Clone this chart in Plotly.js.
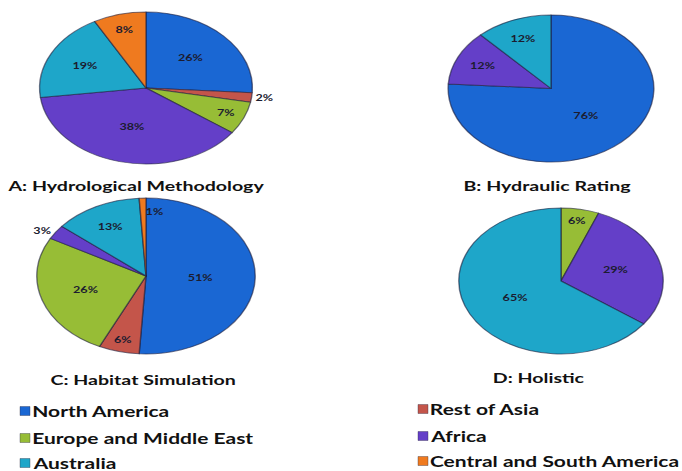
<!DOCTYPE html>
<html>
<head>
<meta charset="utf-8">
<script src="https://cdn.plot.ly/plotly-3.0.1.min.js"></script>
<style>
  html, body { margin: 0; padding: 0; background: #ffffff; overflow: hidden; }
  /* the figure is laid out narrow and widened, so the pies come out as ellipses */
  #chart { width: 487px; height: 471px; transform: scaleX(1.4); transform-origin: 0 0; }
</style>
</head>
<body>
<div id="chart"></div>
<script>
// Share of environmental-flow methods applied in each region (%)
const regions = ['North America', 'Rest of Asia', 'Europe and Middle East', 'Africa', 'Australia', 'Central and South America'];
const hydrological = [26, 2, 7, 38, 19, 8];
const hydraulic = [76, 0, 0, 12, 12, 0];
const habitat = [51, 6, 26, 3, 13, 1];
const holistic = [0, 0, 6, 29, 65, 0];
const panelTitles = ['A: Hydrological Methodology', 'B: Hydraulic Rating', 'C: Habitat Simulation', 'D: Holistic'];

const regionColors = ['#1a67d3', '#c4554a', '#97bd36', '#643fc8', '#1ea6c9', '#ef7a1f'];

const W = 487, H = 471, SX = 1.4;
const FONT = 'Lato, "Open Sans", sans-serif';
const LABEL_FONT = { family: FONT, size: 9, color: '#1c1c30', weight: 'bold' };

// pie domain from a centre and diameter given in page pixels
function domainFor(cx, cy, d) {
  const x = cx / SX;
  return {
    x: [(x - d / 2) / W, (x + d / 2) / W],
    y: [1 - (cy + d / 2) / H, 1 - (cy - d / 2) / H]
  };
}

// label placement per slice: 'inside', 'outside', or 'note' (written beside the pie)
const panels = [
  { values: hydrological, dom: domainFor(146, 88, 152), place: { 'Rest of Asia': 'outside' } },
  { values: hydraulic, dom: domainFor(551, 88.5, 147), place: {} },
  { values: habitat, dom: domainFor(146, 276, 156), place: { 'Africa': 'outside', 'Central and South America': 'note' } },
  { values: holistic, dom: domainFor(561, 281, 146), place: {} }
];

const traces = panels.map(function (p) {
  const labels = [], vals = [], cols = [], pos = [];
  regions.forEach(function (r, i) {
    if (p.values[i] > 0) {
      const where = p.place[r] || 'inside';
      labels.push(r);
      vals.push(p.values[i]);
      cols.push(regionColors[i]);
      pos.push(where === 'note' ? 'none' : where);
    }
  });
  return {
    type: 'pie',
    labels: labels,
    values: vals,
    sort: false,
    direction: 'clockwise',
    rotation: 0,
    domain: p.dom,
    marker: { colors: cols, line: { color: 'rgba(30,30,60,0.6)', width: 1 } },
    texttemplate: '%{value}%',
    textposition: pos,
    insidetextorientation: 'horizontal',
    textfont: LABEL_FONT,
    outsidetextfont: LABEL_FONT,
    hoverinfo: 'label+percent',
    showlegend: false
  };
});

const annotations = [];

// the thin Central and South America slice of panel C is labelled just beside it
annotations.push({
  xref: 'paper', yref: 'paper',
  x: 155 / SX / W, y: 1 - 211 / H,
  xanchor: 'center', yanchor: 'middle',
  text: habitat[5] + '%', showarrow: false,
  font: LABEL_FONT
});

const titlePos = [[136, 185], [547, 185], [144, 379], [538, 377]];
panelTitles.forEach(function (t, i) {
  annotations.push({
    xref: 'paper', yref: 'paper',
    x: titlePos[i][0] / SX / W, y: 1 - titlePos[i][1] / H,
    xanchor: 'center', yanchor: 'middle',
    text: '<b>' + t + '</b>', showarrow: false,
    font: { family: FONT, size: 14, color: '#111111' }
  });
});

// legend laid out in two columns, drawn as swatches plus labels
const legendSlots = [[20, 411], [418, 409], [20, 438], [418, 436], [20, 463], [418, 461]];
const shapes = [];
regions.forEach(function (r, i) {
  const sx = legendSlots[i][0], sy = legendSlots[i][1];
  shapes.push({
    type: 'rect', xref: 'paper', yref: 'paper',
    x0: sx / SX / W, x1: (sx + 10) / SX / W,
    y0: 1 - (sy + 4.5) / H, y1: 1 - (sy - 4.5) / H,
    fillcolor: regionColors[i], line: { color: 'rgba(40,40,60,0.5)', width: 0.6 }
  });
  annotations.push({
    xref: 'paper', yref: 'paper',
    x: (sx + 9) / SX / W, y: 1 - sy / H,
    xanchor: 'left', yanchor: 'middle',
    text: '<b>' + r + '</b>', showarrow: false,
    font: { family: FONT, size: 15, color: '#111111' }
  });
});

const layout = {
  width: W, height: H,
  margin: { l: 0, r: 0, t: 0, b: 0 },
  paper_bgcolor: '#ffffff',
  plot_bgcolor: '#ffffff',
  font: { family: FONT },
  annotations: annotations,
  shapes: shapes,
  showlegend: false
};

Plotly.newPlot('chart', traces, layout, { displayModeBar: false, staticPlot: true });
</script>
</body>
</html>
